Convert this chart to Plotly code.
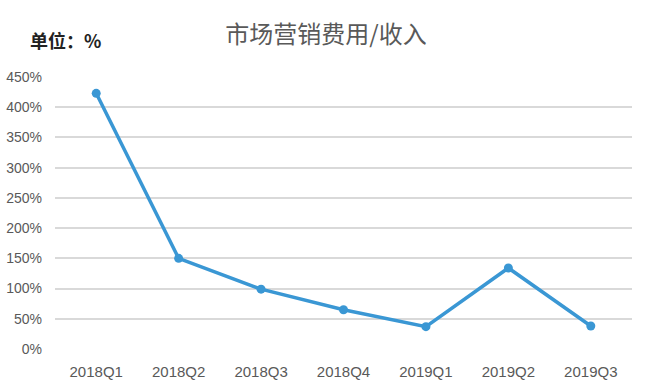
import plotly.graph_objects as go

categories = ["2018Q1", "2018Q2", "2018Q3", "2018Q4", "2019Q1", "2019Q2", "2019Q3"]
values = [423, 150, 99, 65, 37, 134, 38]
y_ticks = [0, 50, 100, 150, 200, 250, 300, 350, 400, 450]
y_tick_labels = [f"{v}%" for v in y_ticks]

W, H = 660, 387
L, R, T, B = 55, 28, 77, 38
PW, PH = W - L - R, H - T - B

fig = go.Figure()
fig.add_trace(go.Scatter(
    x=categories, y=values, mode="lines+markers",
    line=dict(color="#3a97d4", width=3.5),
    marker=dict(color="#3a97d4", size=9),
    showlegend=False, hoverinfo="skip",
))

fig.update_layout(
    width=W, height=H,
    margin=dict(l=L, r=R, t=T, b=B),
    paper_bgcolor="white", plot_bgcolor="white",
    font=dict(family="Liberation Sans, Arial, sans-serif", color="#595959", size=13),
    title=dict(text="市场营销费用/收入", x=326 / W, xref="container", xanchor="center",
               y=1 - 35 / H, yref="container", yanchor="middle",
               font=dict(family="Noto Sans CJK SC", size=24, color="#595959")),
    annotations=[dict(
        text="<b>单位：%</b>", xref="paper", yref="paper",
        x=(28 - L) / PW, y=(H - B - 40) / PH, xanchor="left", yanchor="middle",
        showarrow=False, font=dict(family="Noto Sans CJK SC", size=18, color="#222222"))],
)

fig.update_xaxes(
    type="category", range=[-0.5, 6.5], showgrid=False, zeroline=False, showline=False,
    automargin=False,
    ticks="", ticklabelstandoff=12, tickfont=dict(size=15, color="#595959"),
)
fig.update_yaxes(
    range=[0, 450], tickmode="array", tickvals=y_ticks, ticktext=y_tick_labels,
    showgrid=True, gridcolor="#d9d9d9", gridwidth=1.5, zeroline=False,
    showline=False, automargin=False,
    ticks="", ticklabelstandoff=12, tickfont=dict(size=14, color="#595959"),
)

fig.write_html("out.html", config={"displayModeBar": False},
               post_script="document.body.style.margin='0';")
